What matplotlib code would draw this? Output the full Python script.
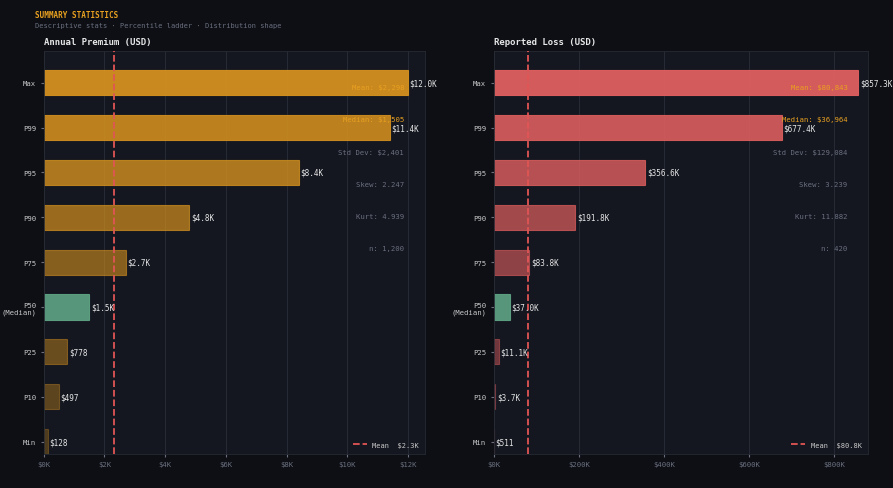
import matplotlib
matplotlib.use('Agg')
import matplotlib.pyplot as plt

labels = ['Max', 'P99', 'P95', 'P90', 'P75', 'P50\n(Median)', 'P25', 'P10', 'Min']
prem = [12000, 11400, 8400, 4800, 2700, 1505, 778, 497, 128]
prem_lbl = ['$12.0K', '$11.4K', '$8.4K', '$4.8K', '$2.7K', '$1.5K', '$778', '$497', '$128']
loss = [857300, 677400, 356600, 191800, 83800, 37000, 11100, 3700, 511]
loss_lbl = ['$857.3K', '$677.4K', '$356.6K', '$191.8K', '$83.8K', '$37.0K', '$11.1K', '$3.7K', '$511']
prem_stats = ['Mean: $2,298', 'Median: $1,505', 'Std Dev: $2,401', 'Skew: 2.247', 'Kurt: 4.939', 'n: 1,200']
loss_stats = ['Mean: $80,843', 'Median: $36,964', 'Std Dev: $129,084', 'Skew: 3.239', 'Kurt: 11.882', 'n: 420']
prem_mean, loss_mean = 2298, 80843
prem_ticks = [0, 2000, 4000, 6000, 8000, 10000, 12000]
prem_tlbl = ['$0K', '$2K', '$4K', '$6K', '$8K', '$10K', '$12K']
loss_ticks = [0, 200000, 400000, 600000, 800000]
loss_tlbl = ['$0K', '$200K', '$400K', '$600K', '$800K']
alphas = [0.95, 0.88, 0.8, 0.7, 0.6, 0.9, 0.45, 0.38, 0.3]

plt.rcParams['font.family'] = 'DejaVu Sans Mono'
BG = '#0d0f14'
AX = '#141720'
fig = plt.figure(figsize=(8.93, 4.89), dpi=100, facecolor=BG)
fig.text(0.039, 0.978, 'SUMMARY STATISTICS', color='#e8a020', fontsize=5.5, fontweight='bold', va='top')
fig.text(0.039, 0.952, 'Descriptive stats · Percentile ladder · Distribution shape', color='#6b7080', fontsize=5, va='top')


def panel(rect, title, vals, vlbl, stats, mean, color, ticks, tlbl, xmax, mean_lbl):
    ax = fig.add_axes(rect, facecolor=AX)
    y = list(range(len(vals)))
    for i, v in enumerate(vals):
        c = '#5fa585' if i == 5 else color
        ax.barh(i, v, height=0.56, color=c, alpha=alphas[i], edgecolor=c, linewidth=0.8, zorder=2)
        ax.text(v + xmax * 0.004, i, vlbl[i], color='#e6e6e6', fontsize=5.5, va='center', zorder=4,
                clip_on=False)
    ax.axvline(mean, color='#e05555', ls='--', lw=1.3, zorder=3, label='Mean  ' + mean_lbl)
    ax.set_ylim(8.27, -0.71)
    ax.set_xlim(0, xmax)
    ax.set_yticks(y)
    ax.set_yticklabels(labels)
    ax.set_xticks(ticks)
    ax.set_xticklabels(tlbl)
    ax.tick_params(colors='#6b7080', labelsize=5.2, length=2)
    for t in ax.get_yticklabels():
        t.set_color('#c8c8c8')
    ax.grid(axis='x', color='#2a2e38', lw=0.6, zorder=2.5)
    for s in ax.spines.values():
        s.set_color('#262a33')
        s.set_linewidth(0.6)
    ax.set_title(title, loc='left', color='#e6e6e6', fontsize=6.5, fontweight='bold', pad=5)
    for k, s in enumerate(stats):
        c = '#e8a020' if k < 2 else '#6b7080'
        ax.text(0.945, 0.91 - 0.08 * k, s, transform=ax.transAxes, ha='right', va='center',
                color=c, fontsize=5.2, zorder=5)
    ax.legend(loc='lower right', fontsize=5, frameon=False, labelcolor='#c8c8c8', handlelength=2)
    return ax


panel([0.049, 0.07, 0.427, 0.824], 'Annual Premium (USD)', prem, prem_lbl, prem_stats, prem_mean,
      '#d4901f', prem_ticks, prem_tlbl, 12560, '$2.3K')
panel([0.553, 0.07, 0.419, 0.824], 'Reported Loss (USD)', loss, loss_lbl, loss_stats, loss_mean,
      '#e05f5f', loss_ticks, loss_tlbl, 880000, '$80.8K')

fig.savefig('out.png', facecolor=BG)
